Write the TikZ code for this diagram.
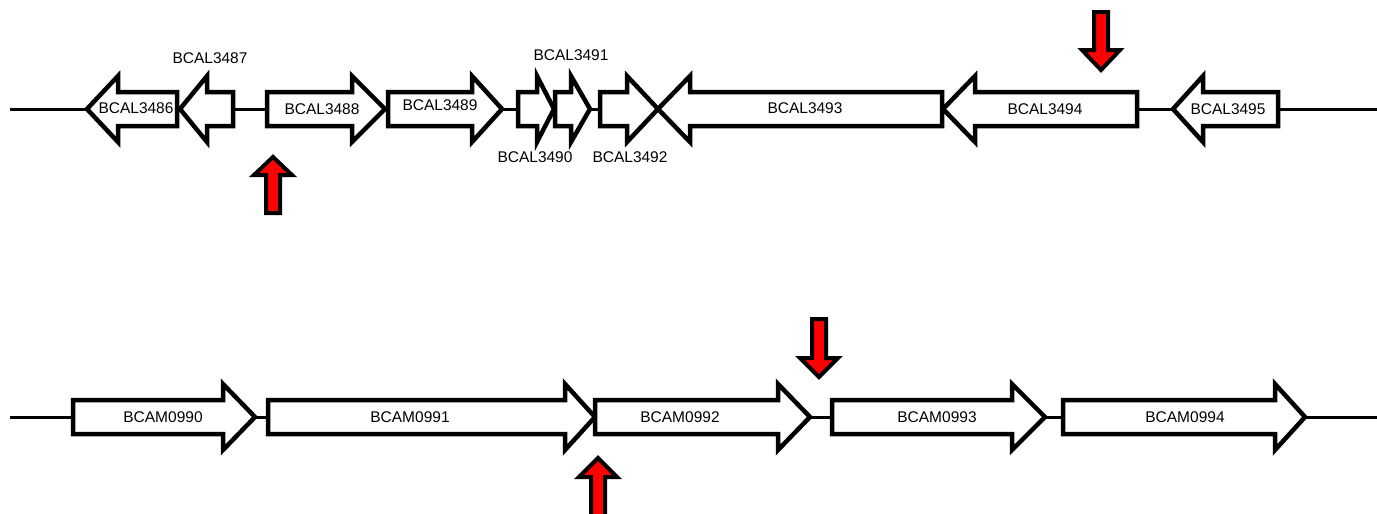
\documentclass[tikz,border=0pt]{standalone}
\usepackage{fontspec}
\setmainfont{Liberation Sans}
\usetikzlibrary{positioning}

\tikzset{
  gene/.style={draw=black,fill=white,line width=4.5pt,miter limit=10},
  backbone/.style={draw=black,line width=3pt},
  marker/.style={draw=black,fill=red,line width=4pt,miter limit=10},
  genelabel/.style={font=\fontsize{15.5}{18}\selectfont,inner sep=1pt}
}

% gene pointing right: start, head base, tip, axis y
\newcommand{\fwdgene}[4]{%
  \path[gene] (#1,#4-17) -- (#2,#4-17) -- (#2,#4-33) -- (#3,#4)
    -- (#2,#4+33) -- (#2,#4+17) -- (#1,#4+17) -- cycle;}
% gene pointing left: tip, head base, end, axis y
\newcommand{\revgene}[4]{%
  \path[gene] (#1,#4) -- (#2,#4-33) -- (#2,#4-17) -- (#3,#4-17)
    -- (#3,#4+17) -- (#2,#4+17) -- (#2,#4+33) -- cycle;}
% red markers: x, tip y, head base y, far end y
\newcommand{\marker}[4]{%
  \path[marker] (#1,#2) -- (#1+19,#3) -- (#1+7,#3) -- (#1+7,#4)
    -- (#1-7,#4) -- (#1-7,#3) -- (#1-19,#3) -- cycle;}

\begin{document}
\begin{tikzpicture}[x=1pt,y=-1pt]
  \useasboundingbox (0,0) rectangle (1377,514);

  % chromosome 1
  \coordinate (topL) at (10,109);
  \coordinate (topR) at (1377,109);
  \draw[backbone] (topL) -- (topR);

  \revgene{87}{118}{177}{109}
  \revgene{180}{207}{233}{109}
  \fwdgene{267}{352}{385}{109}
  \fwdgene{388}{472}{502}{109}
  \fwdgene{518}{537}{554}{109}
  \fwdgene{555}{571}{590}{109}
  \fwdgene{600}{627}{658}{109}
  \revgene{658}{690}{942}{109}
  \revgene{943}{975}{1137}{109}
  \revgene{1173}{1203}{1278}{109}

  \foreach \id/\x/\y in {3486/136/108,3487/210/58,3488/322/109,
      3489/440/105,3490/535/157,3491/571/55,3492/630/157,
      3493/805/108,3494/1045/109,3495/1228/109}
    \node[genelabel] (lab\id) at (\x,\y) {BCAL\id};

  \marker{273}{157}{175}{213}
  \marker{1101}{70}{50}{12}

  % chromosome 2
  \coordinate (botL) at (10,417);
  \coordinate (botR) at (1377,417);
  \draw[backbone] (botL) -- (botR);

  \fwdgene{73}{223}{255}{417}
  \fwdgene{268}{565}{595}{417}
  \fwdgene{595}{778}{810}{417}
  \fwdgene{832}{1012}{1045}{417}
  \fwdgene{1063}{1275}{1305}{417}

  \foreach \id/\x in {0990/163,0991/410,0992/680,0993/937,0994/1185}
    \node[genelabel] (lab\id) at (\x,417) {BCAM\id};

  \marker{819}{377}{358}{319}
  \marker{598}{458}{477}{518}
\end{tikzpicture}
\end{document}
